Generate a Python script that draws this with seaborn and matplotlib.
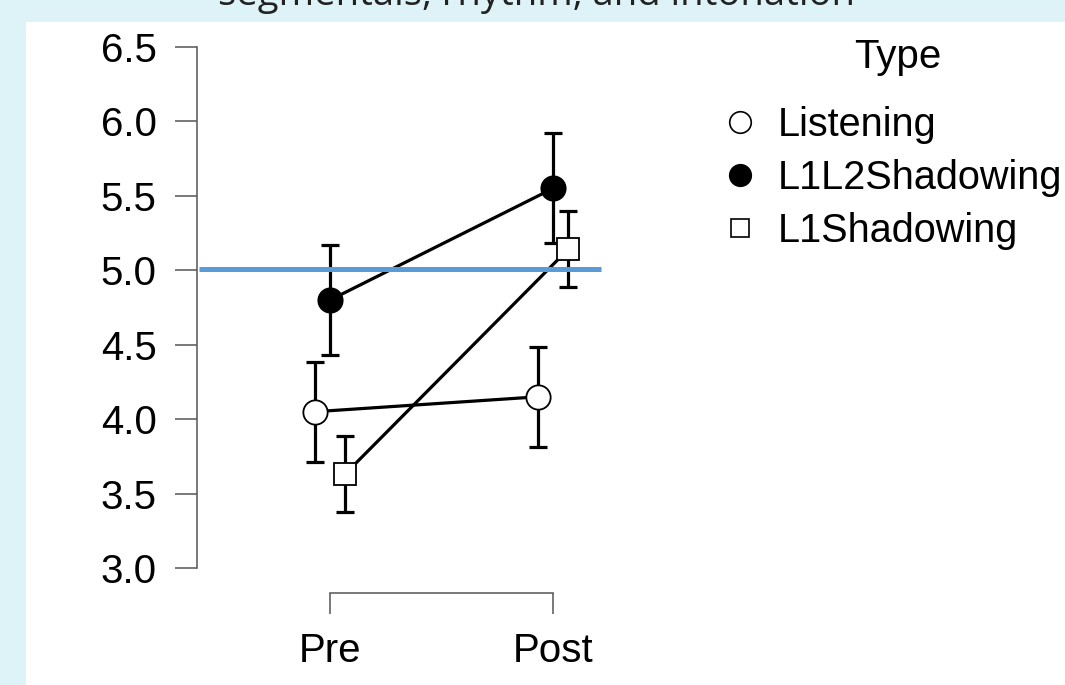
import matplotlib
matplotlib.use("Agg")
import matplotlib.pyplot as plt
from matplotlib.lines import Line2D
from matplotlib.patches import Rectangle
import numpy as np
import pandas as pd
import seaborn as sns

# Descriptive means with 95% CI half-widths per group and time
times = ["Pre", "Post"]
types = ["Listening", "L1L2Shadowing", "L1Shadowing"]
listening_mean = [4.05, 4.15]
listening_ci = [0.336, 0.336]
l1l2_mean = [4.80, 5.55]
l1l2_ci = [0.37, 0.37]
l1_mean = [3.63, 5.14]
l1_ci = [0.255, 0.255]
benchmark = 5.01
title_text = "segmentals, rhythm, and intonation"

means = {"Listening": listening_mean, "L1L2Shadowing": l1l2_mean, "L1Shadowing": l1_mean}
cis = {"Listening": listening_ci, "L1L2Shadowing": l1l2_ci, "L1Shadowing": l1_ci}

rows = []
for t in types:
    for i, tm in enumerate(times):
        rows.append({"Type": t, "Time": tm, "pos": i, "mean": means[t][i], "ci": cis[t][i]})
df = pd.DataFrame(rows)

sns.set_style("white")
plt.rcParams["font.family"] = ["Liberation Sans", "DejaVu Sans"]
plt.rcParams["text.color"] = "black"

W, H = 1065, 685
fig = plt.figure(figsize=(W / 100, H / 100), dpi=100)
fig.patch.set_facecolor("#ddf3f8")
panel = Rectangle((26 / W, 0), 1 - 26 / W, 1 - 22 / H, transform=fig.transFigure,
                  facecolor="white", edgecolor="none", zorder=-10)
fig.add_artist(panel)
fig.text(537 / W, 1 - 5 / H, title_text, ha="center", va="baseline", fontsize=27.5,
         color="#222222", family=["Open Sans", "DejaVu Sans"])

ax = fig.add_axes([197 / W, 1 - 593 / H, (620 - 197) / W, (593 - 47) / H])
ax.set_facecolor("none")
ax.set_zorder(2)

styles = {
    "Listening": dict(marker="o", mfc="white", ms=17.5, off=-0.067),
    "L1L2Shadowing": dict(marker="o", mfc="black", ms=17.5, off=0.0),
    "L1Shadowing": dict(marker="s", mfc="white", ms=15.5, off=0.067),
}

for t in types:
    st = styles[t]
    sub = df[df["Type"] == t].copy()
    sub["x"] = sub["pos"] + st["off"]
    ax.errorbar(sub["x"], sub["mean"], yerr=sub["ci"], fmt="none", ecolor="black",
                elinewidth=2.3, capsize=6.2, capthick=2.3, zorder=2, clip_on=False)
    sns.lineplot(data=sub, x="x", y="mean", ax=ax, color="black", linewidth=2.3,
                 marker=st["marker"], markersize=st["ms"], markerfacecolor=st["mfc"],
                 markeredgecolor="black", markeredgewidth=1.3, zorder=3, clip_on=False,
                 legend=False)

ax.plot([-0.587, 1.215], [benchmark, benchmark], color="#5b9bd5", linewidth=3.6,
        zorder=5, solid_capstyle="butt")

ax.set_xlim(-0.596, 1.300)
ax.set_ylim(2.832, 6.5)
ax.set_xticks([0, 1])
ax.set_xticklabels(times)
yt = np.arange(3.0, 6.51, 0.5)
ax.set_yticks(yt)
ax.set_yticklabels([f"{v:.1f}" for v in yt])
ax.set_xlabel("")
ax.set_ylabel("")

for side in ["top", "right"]:
    ax.spines[side].set_visible(False)
for side in ["left", "bottom"]:
    ax.spines[side].set_color("#555555")
    ax.spines[side].set_linewidth(1.1)
ax.spines["left"].set_bounds(3.0, 6.5)
ax.spines["bottom"].set_bounds(0, 1)
ax.tick_params(axis="both", direction="out", color="#555555", width=1.1,
               labelsize=29, labelcolor="black", pad=13, left=True, bottom=True)
ax.tick_params(axis="y", length=16)
ax.tick_params(axis="x", length=15)

handles = [
    Line2D([], [], linestyle="none", marker="o", markersize=15.5, markerfacecolor="white",
           markeredgecolor="black", markeredgewidth=1.2),
    Line2D([], [], linestyle="none", marker="o", markersize=15.5, markerfacecolor="black",
           markeredgecolor="black", markeredgewidth=1.2),
    Line2D([], [], linestyle="none", marker="s", markersize=13.5, markerfacecolor="white",
           markeredgecolor="black", markeredgewidth=1.2),
]
fig.text(898 / W, 1 - 57 / H, "Type", ha="center", va="center", fontsize=29)
fig.legend(handles, types, loc="upper left",
           bbox_to_anchor=(720 / W, 1 - 106 / H), frameon=False, fontsize=28.5,
           handlelength=1.0, handletextpad=0.45,
           labelspacing=0.38, borderpad=0, borderaxespad=0)

fig.savefig("out.png", dpi=100, facecolor=fig.get_facecolor())
